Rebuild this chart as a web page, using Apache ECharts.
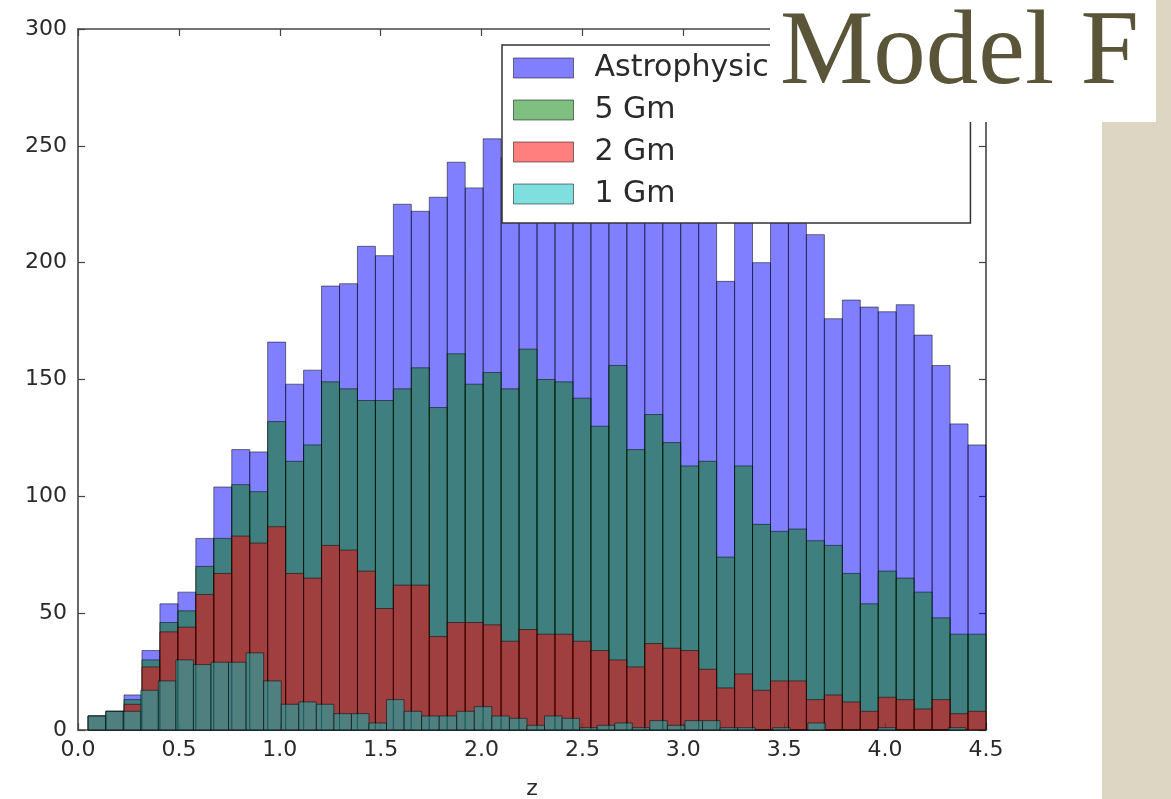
<!DOCTYPE html>
<html>
<head>
<meta charset="utf-8">
<script src="https://cdn.jsdelivr.net/npm/echarts@6/dist/echarts.min.js"></script>
<style>
html,body{margin:0;padding:0;background:#fff;}
#chart{width:1171px;height:799px;}
</style>
</head>
<body>
<div id="chart"></div>
<script>
// ---- data ----
const seriesNames = ['Astrophysical', '5 Gm', '2 Gm', '1 Gm'];
// histogram ranges [zmin, zmax] (50 bins each)
const rangeAstro = [0.05, 4.5];
const range5Gm = [0.05, 4.5];
const range2Gm = [0.05, 4.5];
const range1Gm = [0.05, 4.4];
const countsAstro = [6, 8, 15, 34, 54, 59, 82, 104, 120, 119, 166, 148, 154, 190, 191, 207, 203, 225, 222, 228,
  243, 232, 253, 245, 250, 242, 238, 246, 235, 240, 232, 236, 228, 226, 224, 192, 222, 200, 224, 220,
  212, 176, 184, 181, 179, 182, 169, 156, 131, 122];
const counts5Gm = [6, 8, 13, 30, 46, 51, 70, 82, 105, 102, 132, 115, 122, 149, 146, 141, 141, 146, 155, 138,
  161, 148, 153, 146, 163, 150, 149, 142, 130, 156, 120, 135, 123, 113, 115, 74, 113, 88, 85, 86,
  81, 79, 67, 54, 68, 65, 59, 48, 41, 41];
const counts2Gm = [6, 8, 11, 27, 42, 44, 58, 67, 83, 80, 87, 67, 65, 79, 77, 68, 52, 62, 62, 40,
  46, 46, 45, 38, 43, 41, 41, 38, 34, 30, 27, 37, 35, 34, 26, 18, 24, 17, 21, 21,
  13, 15, 12, 8, 14, 13, 9, 13, 7, 8];
const counts1Gm = [6, 8, 8, 17, 21, 30, 28, 29, 29, 33, 21, 11, 12, 11, 7, 7, 3, 13, 8, 6,
  6, 8, 10, 6, 5, 2, 6, 5, 1, 2, 3, 1, 4, 2, 4, 4, 1, 1, 0, 1,
  0, 3, 0, 0, 0, 1, 0, 0, 0, 1];
const xTicks = [0, 4.5, 0.5];   // min, max, interval
const yTicks = [0, 300, 50];

// ---- styles ----
const fills = ['rgba(0,0,255,0.5)', 'rgba(0,128,0,0.5)', 'rgba(255,0,0,0.5)', 'rgba(0,191,191,0.5)'];
const edge = 'rgba(0,0,0,0.5)';

function histData(range, counts) {
  const n = counts.length;
  const w = (range[1] - range[0]) / n;
  return counts.map((c, i) => [range[0] + i * w, range[0] + (i + 1) * w, c]);
}
const allData = [
  histData(rangeAstro, countsAstro),
  histData(range5Gm, counts5Gm),
  histData(range2Gm, counts2Gm),
  histData(range1Gm, counts1Gm)
];

const chart = echarts.init(document.getElementById('chart'), null, {renderer: 'canvas'});
const labelFont = {fontFamily: 'DejaVu Sans', fontSize: 22, color: '#2a2a2a'};
const frame = {show: true, onZero: false, lineStyle: {color: '#444', width: 1.6}};
const tick = {show: true, inside: true, length: 7, lineStyle: {color: '#444', width: 1.2}};

const series = allData.map((d, si) => ({
  type: 'custom',
  name: seriesNames[si],
  xAxisIndex: 0,
  yAxisIndex: 0,
  data: d,
  itemStyle: {color: fills[si], borderColor: edge, borderWidth: 1},
  renderItem: function (params, api) {
    const p0 = api.coord([api.value(0), api.value(2)]);
    const p1 = api.coord([api.value(1), 0]);
    return {
      type: 'rect',
      shape: {x: p0[0], y: p0[1], width: p1[0] - p0[0], height: p1[1] - p0[1]},
      style: {fill: fills[si], stroke: edge, lineWidth: 1}
    };
  },
  z: 2 + si
}));

chart.setOption({
  animation: false,
  backgroundColor: '#fff',
  grid: {left: 78, right: 185, top: 29, bottom: 69, containLabel: false, outerBoundsMode: 'none'},
  xAxis: [
    {type: 'value', min: xTicks[0], max: xTicks[1], interval: xTicks[2], position: 'bottom',
     name: 'z', nameLocation: 'middle', nameGap: 48, nameTextStyle: labelFont,
     axisLine: frame, axisTick: tick, splitLine: {show: false},
     axisLabel: Object.assign({margin: 9, formatter: v => v.toFixed(1)}, labelFont)},
    {type: 'value', min: xTicks[0], max: xTicks[1], interval: xTicks[2], position: 'top',
     axisLine: frame, axisTick: tick, splitLine: {show: false}, axisLabel: {show: false}}
  ],
  yAxis: [
    {type: 'value', min: yTicks[0], max: yTicks[1], interval: yTicks[2], position: 'left',
     axisLine: frame, axisTick: tick, splitLine: {show: false},
     axisLabel: Object.assign({margin: 11}, labelFont)},
    {type: 'value', min: yTicks[0], max: yTicks[1], interval: yTicks[2], position: 'right',
     axisLine: frame, axisTick: tick, splitLine: {show: false}, axisLabel: {show: false}}
  ],
  legend: {
    orient: 'vertical', left: 502, top: 45,
    itemWidth: 60, itemHeight: 20, itemGap: 12,
    padding: [8, 175, 14, 11],
    backgroundColor: '#fff', borderColor: '#333', borderWidth: 1.5, borderRadius: 0,
    icon: 'rect',
    textStyle: {fontFamily: 'DejaVu Sans', fontSize: 30, color: '#2a2a2a', lineHeight: 30, padding: [0, 0, 0, 16]},
    data: seriesNames.map((n, i) => ({name: n, itemStyle: {color: fills[i], borderColor: edge, borderWidth: 1}})),
    z: 10
  },
  graphic: [
    {type: 'rect', z: 100, shape: {x: 1102, y: 122, width: 69, height: 677}, style: {fill: '#dcd6c2'}},
    {type: 'rect', z: 100, shape: {x: 1156, y: 0, width: 15, height: 122}, style: {fill: '#dcd6c2'}},
    {type: 'rect', z: 100, shape: {x: 770, y: 0, width: 386, height: 122}, style: {fill: '#ffffff'}},
    {type: 'text', z: 101, style: {text: 'Model F', x: 780, y: 55, font: '105px "Liberation Serif"', fill: '#5a5438', verticalAlign: 'middle', align: 'left'}}
  ],
  series: series
});
</script>
</body>
</html>
